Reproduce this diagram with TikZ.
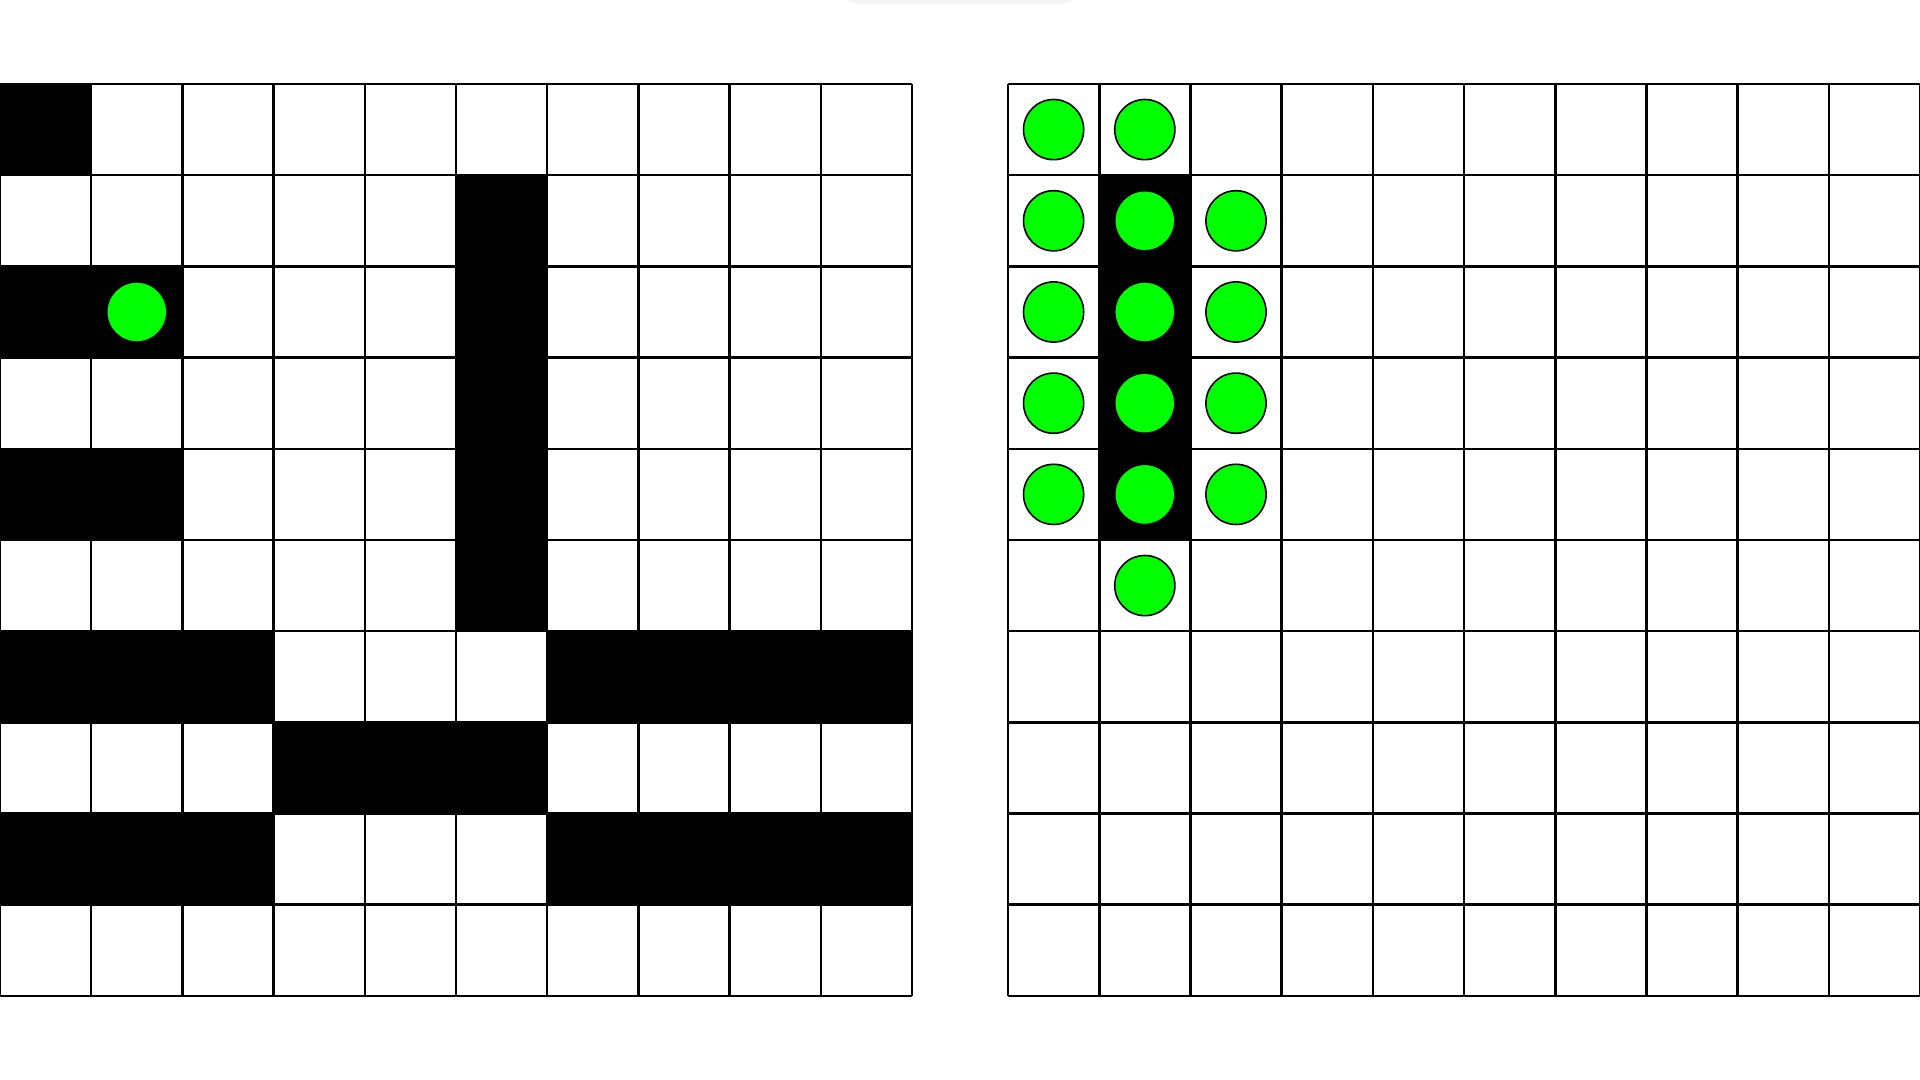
\documentclass[tikz,border=0pt]{standalone}
\usepackage{tikz}
\definecolor{dotgreen}{RGB}{0,255,0}
\tikzset{
  gridline/.style={line width=0.8pt},
  dot/.style={fill=dotgreen,draw=black,line width=0.5pt}
}
\begin{document}
\begin{tikzpicture}
				\useasboundingbox (0,-0.921) rectangle (21.053,10.921);
				\fill[black!4,rounded corners=2pt] (9.29,10.88) rectangle (11.77,11.2);
				% left board
				\fill (0,9) rectangle (1,10);
				\fill (5,4) rectangle (6,9);
				\fill (0,7) rectangle (2,8);
				\fill (0,5) rectangle (2,6);
				\fill (0,3) rectangle (3,4);
				\fill (6,3) rectangle (10,4);
				\fill (3,2) rectangle (6,3);
				\fill (0,1) rectangle (3,2);
				\fill (6,1) rectangle (10,2);
				\draw[gridline] (0,0) grid (10,10);
				\draw[dot] (1.5,7.5) circle (0.33);
				% right board
				\begin{scope}[xshift=11.053cm]
					\fill (1,5) rectangle (2,9);
					\draw[gridline] (0,0) grid (10,10);
					\foreach \x/\y in {0.5/9.5,1.5/9.5,1.5/4.5}
						\draw[dot] (\x,\y) circle (0.33);
					\foreach \y in {8.5,7.5,6.5,5.5}
						\foreach \x in {0.5,1.5,2.5}
							\draw[dot] (\x,\y) circle (0.33);
				\end{scope}
			\end{tikzpicture}
\end{document}
